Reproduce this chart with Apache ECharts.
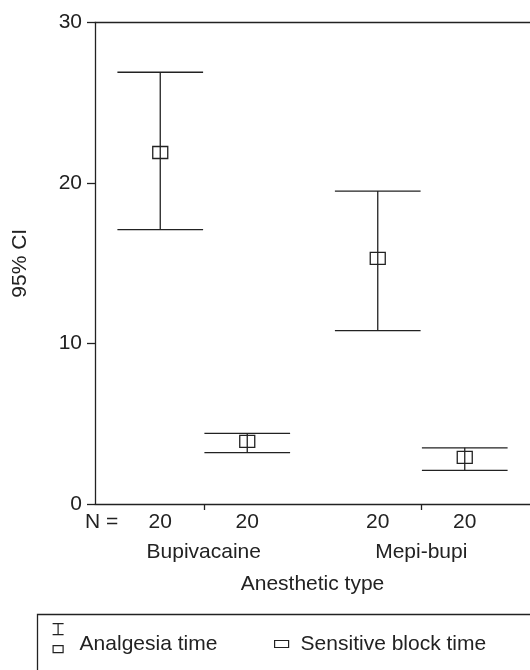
<!DOCTYPE html>
<html>
<head>
<meta charset="utf-8">
<script src="https://cdn.jsdelivr.net/npm/echarts@6/dist/echarts.min.js"></script>
<style>
html,body{margin:0;padding:0;background:#fff;}
#chart{width:530px;height:670px;}
</style>
</head>
<body>
<div id="chart"></div>
<script>
// ---- data ----
const categories = ['Bupivacaine', 'Mepi-bupi'];
const yTicks = [0, 10, 20, 30];
const analgesiaMean = [21.9, 15.3];
const analgesiaLow = [17.1, 10.8];
const analgesiaHigh = [26.9, 19.5];
const sensitiveMean = [3.9, 2.9];
const sensitiveLow = [3.2, 2.1];
const sensitiveHigh = [4.4, 3.5];
const analgesiaN = [20, 20];
const sensitiveN = [20, 20];
const seriesNames = ['Analgesia time', 'Sensitive block time'];

const FONT = "'Liberation Sans', Arial, Helvetica, sans-serif";
const INK = '#222';

function buildData(lows, means, highs, ns) {
  return categories.map((c, i) => [i, lows[i], means[i], highs[i], ns[i]]);
}

function makeRender(offsetFrac) {
  return function (params, api) {
    const cat = api.value(0);
    const low = api.value(1), mean = api.value(2), high = api.value(3), n = api.value(4);
    const band = api.size([1, 0])[0];
    const pH = api.coord([cat, high]);
    const pL = api.coord([cat, low]);
    const pM = api.coord([cat, mean]);
    const p0 = api.coord([cat, 0]);
    const x = pH[0] + offsetFrac * band;
    const half = 0.197 * band;
    const ls = { stroke: INK, lineWidth: 1.3 };
    return {
      type: 'group',
      children: [
        { type: 'line', shape: { x1: x - half, y1: pH[1], x2: x + half, y2: pH[1] }, style: ls },
        { type: 'line', shape: { x1: x - half, y1: pL[1], x2: x + half, y2: pL[1] }, style: ls },
        { type: 'line', shape: { x1: x, y1: pH[1], x2: x, y2: pL[1] }, style: ls },
        { type: 'rect', shape: { x: x - 7.5, y: pM[1] - 6, width: 15, height: 12 }, style: { stroke: INK, fill: 'none', lineWidth: 1.3 } },
        { type: 'text', x: x, y: p0[1] + 18, style: { text: String(n), font: '21px ' + FONT, fill: INK, align: 'center', verticalAlign: 'middle' } }
      ]
    };
  };
}

const chart = echarts.init(document.getElementById('chart'), null, { renderer: 'canvas' });

const option = {
  animation: false,
  backgroundColor: '#fff',
  grid: { left: 95, top: 22.5, width: 436, height: 481.5, containLabel: false },
  xAxis: [
    {
      type: 'category',
      data: categories,
      position: 'bottom',
      boundaryGap: true,
      axisLine: { show: true, lineStyle: { color: INK, width: 1.3 } },
      axisTick: { show: true, alignWithLabel: true, length: 6, lineStyle: { color: INK, width: 1.3 } },
      axisLabel: { margin: 38, fontSize: 21, fontFamily: FONT, color: INK },
      name: 'Anesthetic type',
      nameLocation: 'middle',
      nameGap: 70,
      nameTextStyle: { fontSize: 21, fontFamily: FONT, color: INK },
      splitLine: { show: false }
    },
    {
      type: 'category',
      data: categories,
      position: 'top',
      axisLine: { show: true, lineStyle: { color: INK, width: 1.3 } },
      axisTick: { show: false },
      axisLabel: { show: false },
      splitLine: { show: false }
    }
  ],
  yAxis: {
    type: 'value',
    min: yTicks[0],
    max: yTicks[yTicks.length - 1],
    interval: 10,
    axisLine: { show: true, lineStyle: { color: INK, width: 1.3 } },
    axisTick: { show: true, length: 8, lineStyle: { color: INK, width: 1.3 } },
    axisLabel: { margin: 13, fontSize: 21, fontFamily: FONT, color: INK },
    splitLine: { show: false },
    name: '95% CI',
    nameLocation: 'middle',
    nameGap: 64,
    nameTextStyle: { fontSize: 21, fontFamily: FONT, color: INK }
  },
  legend: [
    {
      left: 52, top: 623, padding: 0,
      itemWidth: 11, itemHeight: 42,
      data: [{
        name: seriesNames[0],
        icon: 'path://M0,0 L11,0 M5.5,0 L5.5,11 M0,11 L11,11 M0.5,22 L10.5,22 L10.5,29 L0.5,29 Z M5.5,42 L5.5,42',
        itemStyle: { color: 'rgba(0,0,0,0)', borderColor: INK, borderWidth: 1.2 }
      }],
      textStyle: { fontSize: 21, fontFamily: FONT, color: INK, padding: [0, 0, 0, 11] },
      selectedMode: false
    },
    {
      left: 274, top: 633.5, padding: 0,
      itemWidth: 14, itemHeight: 7,
      data: [{
        name: seriesNames[1],
        icon: 'path://M0,0 L14,0 L14,7 L0,7 Z',
        itemStyle: { color: 'rgba(0,0,0,0)', borderColor: INK, borderWidth: 1.2 }
      }],
      textStyle: { fontSize: 21, fontFamily: FONT, color: INK, padding: [0, 0, 0, 7] },
      selectedMode: false
    }
  ],
  graphic: [
    { type: 'rect', left: 35, top: 612, shape: { width: 600, height: 120 }, style: { stroke: INK, fill: 'none', lineWidth: 1.3 }, silent: true },
    { type: 'text', left: 85, top: 511.5, style: { text: 'N =', font: '21px ' + FONT, fill: INK } }
  ],
  series: [
    {
      name: seriesNames[0],
      type: 'custom',
      clip: false,
      renderItem: makeRender(-0.2),
      encode: { x: 0, y: [1, 2, 3] },
      itemStyle: { color: INK },
      data: buildData(analgesiaLow, analgesiaMean, analgesiaHigh, analgesiaN)
    },
    {
      name: seriesNames[1],
      type: 'custom',
      clip: false,
      renderItem: makeRender(0.2),
      encode: { x: 0, y: [1, 2, 3] },
      itemStyle: { color: INK },
      data: buildData(sensitiveLow, sensitiveMean, sensitiveHigh, sensitiveN)
    }
  ]
};
chart.setOption(option);
</script>
</body>
</html>
